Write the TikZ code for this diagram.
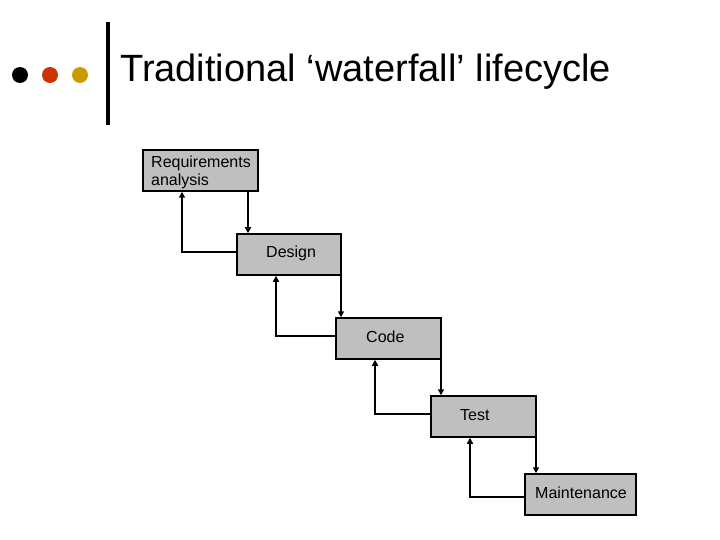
\documentclass[tikz,border=0pt]{standalone}
\usepackage{fontspec}
\setmainfont{Liberation Sans}
\usetikzlibrary{arrows.meta}
\definecolor{dotred}{HTML}{CC3300}
\definecolor{dotgold}{HTML}{CC9900}
\begin{document}
\begin{tikzpicture}[x=1pt,y=-1pt,
  stage/.style={draw,line width=1.5pt,fill=black!25,inner sep=0},
  lbl/.style={anchor=west,font=\fontsize{16}{18}\selectfont,align=left,inner sep=0},
  conn/.style={line width=1.5pt,-{Triangle[length=6pt,width=6pt]}}]
\useasboundingbox (0,0) rectangle (720,540);
\fill[black] (20,75) circle (8) coordinate (d1);
\fill[dotred] (50,75) circle (8) coordinate (d2);
\fill[dotgold] (80,75) circle (8) coordinate (d3);
\draw[line width=4pt] (108,22) coordinate (b1) -- (108,125) coordinate (b2);
\node[anchor=west,inner sep=0,font=\fontsize{38}{42}\selectfont] (title) at (120,72) {Traditional ‘waterfall’ lifecycle};
\node[stage,minimum width=115,minimum height=41] (req) at (200.5,170.5) {};
\node[stage,minimum width=104,minimum height=41] (des) at (289,254.5) {};
\node[stage,minimum width=105,minimum height=41] (cod) at (388.5,338.5) {};
\node[stage,minimum width=105,minimum height=41] (tst) at (483.5,416.5) {};
\node[stage,minimum width=111,minimum height=41] (mnt) at (580.5,494.5) {};
\node[lbl] (reqt) at (151,172) {Requirements\\analysis};
\node[lbl] (dest) at (266,253) {Design};
\node[lbl] (codt) at (366,337) {Code};
\node[lbl] (tstt) at (460,415) {Test};
\node[lbl] (mntt) at (535,493) {Maintenance};
\draw[conn] (req.south -| 248,0) -- (des.north -| 248,0);
\draw[conn] (des.south -| 341,0) -- (cod.north -| 341,0);
\draw[conn] (cod.south -| 441,0) -- (tst.north -| 441,0);
\draw[conn] (tst.south -| 536,0) -- (mnt.north -| 536,0);
\draw[conn] (des.west |- 0,252) -| (req.south -| 182,0);
\draw[conn] (cod.west |- 0,336) -| (des.south -| 276,0);
\draw[conn] (tst.west |- 0,414) -| (cod.south -| 375,0);
\draw[conn] (mnt.west |- 0,497) -| (tst.south -| 470,0);
\end{tikzpicture}
\end{document}
